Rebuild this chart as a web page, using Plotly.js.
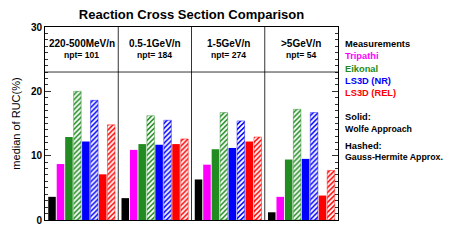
<!DOCTYPE html>
<html>
<head>
<meta charset="utf-8">
<script src="https://cdn.plot.ly/plotly-3.0.1.min.js"></script>
<style>html,body{margin:0;padding:0;background:#fff}#chart{width:450px;height:240px}</style>
</head>
<body>
<div id="chart"></div>
<script>
const groups = ['220-500MeV/n', '0.5-1GeV/n', '1-5GeV/n', '>5GeV/n'];
const npt = [101, 184, 274, 54];
const measurements = [3.6, 3.4, 6.3, 1.2];
const tripathi = [8.7, 10.9, 8.6, 3.6];
const eikonalWolfe = [12.9, 11.8, 11.0, 9.4];
const eikonalGauss = [20.0, 16.2, 16.7, 17.2];
const ls3dNrWolfe = [12.2, 11.7, 11.2, 9.5];
const ls3dNrGauss = [18.6, 15.5, 15.4, 16.7];
const ls3dRelWolfe = [7.1, 11.8, 12.2, 3.8];
const ls3dRelGauss = [14.8, 12.6, 12.9, 7.7];

const seriesNames = ['Measurements', 'Tripathi', 'Eikonal', 'LS3D (NR)', 'LS3D (REL)'];
const seriesColors = ['#000000', '#ff00ff', '#228b22', '#0000ff', '#ff0000'];

const FONT = 'Liberation Sans, Arial, Helvetica, sans-serif';
const xs = groups.map((g, i) => i);

function solid(y, color) {
  return {type: 'bar', x: xs, y: y, showlegend: false, hoverinfo: 'skip',
    marker: {color: color, line: {width: 0}}};
}
function hashed(y, color, edge) {
  return {type: 'bar', x: xs, y: y, showlegend: false, hoverinfo: 'skip',
    marker: {color: color, line: {width: 1, color: edge},
      pattern: {shape: '/', fgcolor: '#ffffff', fgopacity: 1, size: 3.5, solidity: 0.55, fillmode: 'overlay'}}};
}

const data = [
  solid(measurements, seriesColors[0]),
  solid(tripathi, seriesColors[1]),
  solid(eikonalWolfe, seriesColors[2]),
  hashed(eikonalGauss, seriesColors[2], 'rgba(34,139,34,0.45)'),
  solid(ls3dNrWolfe, seriesColors[3]),
  hashed(ls3dNrGauss, seriesColors[3], 'rgba(0,0,255,0.45)'),
  solid(ls3dRelWolfe, seriesColors[4]),
  hashed(ls3dRelGauss, seriesColors[4], 'rgba(255,0,0,0.45)')
];

const annotations = [];
groups.forEach((g, i) => {
  annotations.push({x: i, y: 27.45, xref: 'x', yref: 'y', text: g, showarrow: false,
    xanchor: 'center', yanchor: 'middle', font: {family: FONT, size: 10, color: '#000', weight: 'bold'}});
  annotations.push({x: i, y: 25.6, xref: 'x', yref: 'y', text: 'npt= ' + npt[i], showarrow: false,
    xanchor: 'center', yanchor: 'middle', font: {family: FONT, size: 8.6, color: '#000', weight: 'bold'}});
});

const legendX = 1.018;
const legendY = [0.910, 0.851, 0.784, 0.720, 0.660];
seriesNames.forEach((n, i) => {
  annotations.push({x: legendX, y: legendY[i], xref: 'paper', yref: 'paper', text: n, showarrow: false,
    xanchor: 'left', yanchor: 'middle', font: {family: FONT, size: 9.3, color: seriesColors[i], weight: 'bold'}});
});
const notes = [['Solid:', 0.534, 9.3], ['Wolfe Approach', 0.473, 8.8], ['Hashed:', 0.385, 9.3], ['Gauss-Hermite Approx.', 0.325, 8.8]];
notes.forEach(n => {
  annotations.push({x: legendX, y: n[1], xref: 'paper', yref: 'paper', text: n[0], showarrow: false,
    xanchor: 'left', yanchor: 'middle', font: {family: FONT, size: n[2], color: '#000', weight: 'bold'}});
});

const shapes = [0.5, 1.5, 2.5].map(v => ({type: 'line', xref: 'x', yref: 'paper', x0: v, x1: v, y0: 0, y1: 1,
  line: {color: '#000', width: 0.8}}));
shapes.push({type: 'line', xref: 'paper', yref: 'y', x0: 0, x1: 1, y0: 23, y1: 23, line: {color: '#000', width: 0.8}});

const layout = {
  width: 450, height: 240,
  margin: {l: 45, r: 112, t: 27, b: 20, pad: 0},
  paper_bgcolor: '#fff', plot_bgcolor: '#fff',
  font: {family: FONT, color: '#000'},
  title: {text: 'Reaction Cross Section Comparison', x: 0.5, xref: 'paper', y: 0.94, yref: 'container',
    xanchor: 'center', yanchor: 'middle', font: {family: FONT, size: 13, color: '#000', weight: 'bold'}},
  barmode: 'group', bargap: 0.076, bargroupgap: 0.11,
  xaxis: {type: 'linear', range: [-0.5, 3.5], showticklabels: false, ticks: '', showgrid: false, zeroline: false,
    showline: true, linecolor: '#000', linewidth: 1, mirror: true, fixedrange: true},
  xaxis2: {overlaying: 'x', side: 'top', anchor: 'y', range: [-0.5, 3.5], tick0: -0.5, dtick: 1 / 12,
    ticks: 'inside', ticklen: 2.5, tickcolor: '#000', tickwidth: 0.8, showticklabels: false, showgrid: false,
    zeroline: false, showline: false},
  yaxis: {range: [0, 30], tick0: 0, dtick: 10, ticks: 'inside', ticklen: 6, tickwidth: 0.8, tickcolor: '#000',
    showgrid: false, zeroline: false, showline: true, linecolor: '#000', linewidth: 1, mirror: 'ticks',
    tickfont: {family: FONT, size: 10, color: '#000', weight: 'bold'},
    minor: {dtick: 1, ticks: 'inside', ticklen: 3, tickcolor: '#000', tickwidth: 0.8, showgrid: false},
    title: {text: 'median of RUC(%)', font: {family: FONT, size: 11, color: '#000'}, standoff: 8}},
  shapes: shapes,
  annotations: annotations,
  showlegend: false
};

Plotly.newPlot('chart', data, layout, {staticPlot: true, displayModeBar: false});
</script>
</body>
</html>
